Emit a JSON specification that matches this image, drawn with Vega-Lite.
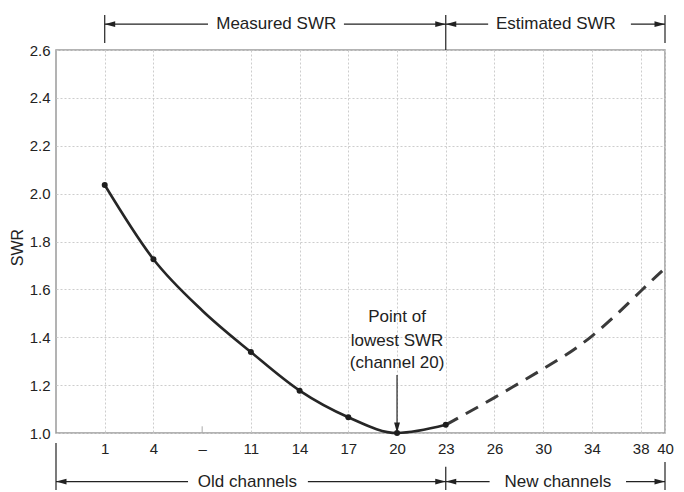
{
  "$schema": "https://vega.github.io/schema/vega-lite/v6.json",
  "width": 609,
  "height": 383,
  "autosize": "none",
  "padding": {"left": 56, "top": 50, "right": 19, "bottom": 59},
  "background": "white",
  "config": {
    "font": "Liberation Sans",
    "view": {"stroke": "#9a9a9a", "strokeWidth": 1.5},
    "text": {"font": "Liberation Sans"}
  },
  "datasets": {
    "curve": [
      {"x": 1, "y": 2.036, "channel": "1", "seg": "measured", "dot": true},
      {"x": 2, "y": 1.726, "channel": "4", "seg": "measured", "dot": true},
      {"x": 3, "y": 1.512, "channel": "–", "seg": "measured", "dot": false},
      {"x": 4, "y": 1.338, "channel": "11", "seg": "measured", "dot": true},
      {"x": 5, "y": 1.177, "channel": "14", "seg": "measured", "dot": true},
      {"x": 6, "y": 1.066, "channel": "17", "seg": "measured", "dot": true},
      {"x": 7, "y": 1.0, "channel": "20", "seg": "measured", "dot": true},
      {"x": 8, "y": 1.034, "channel": "23", "seg": "measured", "dot": true},
      {"x": 8, "y": 1.034, "channel": "23", "seg": "estimated", "dot": false},
      {"x": 9, "y": 1.148, "channel": "26", "seg": "estimated", "dot": false},
      {"x": 10, "y": 1.268, "channel": "30", "seg": "estimated", "dot": false},
      {"x": 11, "y": 1.405, "channel": "34", "seg": "estimated", "dot": false},
      {"x": 12, "y": 1.592, "channel": "38", "seg": "estimated", "dot": false},
      {"x": 12.5, "y": 1.688, "channel": "40", "seg": "estimated", "dot": false}
    ],
    "lines": [
      {"x": 1, "x2": 3.12, "y": 2.708, "y2": 2.708},
      {"x": 5.91, "x2": 8, "y": 2.708, "y2": 2.708},
      {"x": 8, "x2": 8.87, "y": 2.708, "y2": 2.708},
      {"x": 11.8, "x2": 12.5, "y": 2.708, "y2": 2.708},
      {"x": 0, "x2": 2.71, "y": 0.797, "y2": 0.797},
      {"x": 5.17, "x2": 8, "y": 0.797, "y2": 0.797},
      {"x": 8, "x2": 8.9, "y": 0.797, "y2": 0.797},
      {"x": 11.7, "x2": 12.5, "y": 0.797, "y2": 0.797},
      {"x": 1, "x2": 1, "y": 2.746, "y2": 2.629},
      {"x": 8, "x2": 8, "y": 2.746, "y2": 2.6},
      {"x": 12.5, "x2": 12.5, "y": 2.746, "y2": 2.629},
      {"x": 0, "x2": 0, "y": 0.958, "y2": 0.762},
      {"x": 8, "x2": 8, "y": 0.859, "y2": 0.762},
      {"x": 12.5, "x2": 12.5, "y": 0.879, "y2": 0.762},
      {"x": 7, "x2": 7, "y": 1.242, "y2": 1.01}
    ],
    "minor": [
      {"x": 3, "x2": 3, "y": 1.0, "y2": 1.028}
    ],
    "heads": [
      {"x": 1, "y": 2.708, "dir": "left"},
      {"x": 8, "y": 2.708, "dir": "right"},
      {"x": 8, "y": 2.708, "dir": "left"},
      {"x": 12.5, "y": 2.708, "dir": "right"},
      {"x": 0, "y": 0.797, "dir": "left"},
      {"x": 8, "y": 0.797, "dir": "right"},
      {"x": 8, "y": 0.797, "dir": "left"},
      {"x": 12.5, "y": 0.797, "dir": "right"},
      {"x": 7, "y": 1.0, "dir": "down"}
    ],
    "labels": [
      {"x": 4.52, "y": 2.708, "text": "Measured SWR"},
      {"x": 10.26, "y": 2.708, "text": "Estimated SWR"},
      {"x": 3.93, "y": 0.797, "text": "Old channels"},
      {"x": 10.3, "y": 0.797, "text": "New channels"},
      {"x": 7, "y": 1.486, "text": "Point of"},
      {"x": 7, "y": 1.386, "text": "lowest SWR"},
      {"x": 7, "y": 1.291, "text": "(channel 20)"}
    ]
  },
  "layer": [
    {
      "data": {"name": "curve"},
      "transform": [{"filter": "datum.seg === 'measured'"}],
      "mark": {"type": "line", "interpolate": "monotone", "color": "#262626", "strokeWidth": 2.6},
      "encoding": {
        "x": {
          "field": "x", "type": "quantitative",
          "scale": {"domain": [0, 12.5], "nice": false, "zero": false},
          "axis": {
            "title": null,
            "values": [1, 2, 3, 4, 5, 6, 7, 8, 9, 10, 11, 12, 12.5],
            "labelExpr": "datum.value == 12.5 ? '40' : ['', '1', '4', '–', '11', '14', '17', '20', '23', '26', '30', '34', '38'][datum.value]",
            "labelOverlap": false,
            "labelFlush": false,
            "labelBound": false,
            "labelFontSize": 15,
            "labelColor": "#222",
            "labelPadding": 8,
            "labelFont": "Liberation Sans",
            "ticks": false,
            "domain": false,
            "grid": true,
            "gridColor": "#cdcdcd",
            "gridDash": [2, 2],
            "gridWidth": 1,
            "gridOpacity": {"condition": {"test": "datum.value === 3", "value": 0}, "value": 1}
          }
        },
        "y": {
          "field": "y", "type": "quantitative",
          "scale": {"domain": [1.0, 2.6], "nice": false, "zero": false},
          "axis": {
            "title": "SWR",
            "titleFont": "Liberation Sans",
            "titleFontSize": 16,
            "titleFontWeight": "normal",
            "titleColor": "#222",
            "titleAngle": -90,
            "titleX": -39,
            "titleY": 197,
            "titleAlign": "center",
            "titleBaseline": "middle",
            "values": [1.0, 1.2, 1.4, 1.6, 1.8, 2.0, 2.2, 2.4, 2.6],
            "format": ".1f",
            "labelOverlap": false,
            "labelFlush": false,
            "labelFontSize": 15,
            "labelColor": "#222",
            "labelPadding": 6,
            "labelFont": "Liberation Sans",
            "ticks": false,
            "domain": false,
            "grid": true,
            "gridColor": "#cdcdcd",
            "gridDash": [2, 2],
            "gridWidth": 1
          }
        }
      }
    },
    {
      "data": {"name": "curve"},
      "transform": [{"filter": "datum.seg === 'estimated'"}],
      "mark": {"type": "line", "interpolate": "natural", "color": "#3a3a3a", "strokeWidth": 3, "strokeDash": [14, 9]},
      "encoding": {
        "x": {"field": "x", "type": "quantitative"},
        "y": {"field": "y", "type": "quantitative"}
      }
    },
    {
      "data": {"name": "curve"},
      "transform": [{"filter": "datum.dot"}],
      "mark": {"type": "circle", "color": "#1e1e1e", "size": 36, "opacity": 1},
      "encoding": {
        "x": {"field": "x", "type": "quantitative"},
        "y": {"field": "y", "type": "quantitative"}
      }
    },
    {
      "data": {"name": "minor"},
      "mark": {"type": "rule", "color": "#aaaaaa", "strokeWidth": 1},
      "encoding": {
        "x": {"field": "x", "type": "quantitative"},
        "x2": {"field": "x2"},
        "y": {"field": "y", "type": "quantitative"},
        "y2": {"field": "y2"}
      }
    },
    {
      "data": {"name": "lines"},
      "mark": {"type": "rule", "color": "#222", "strokeWidth": 1.2},
      "encoding": {
        "x": {"field": "x", "type": "quantitative"},
        "x2": {"field": "x2"},
        "y": {"field": "y", "type": "quantitative"},
        "y2": {"field": "y2"}
      }
    },
    {
      "data": {"name": "heads"},
      "mark": {"type": "point", "filled": true, "color": "#222", "opacity": 1, "size": 440, "strokeWidth": 0},
      "encoding": {
        "x": {"field": "x", "type": "quantitative"},
        "y": {"field": "y", "type": "quantitative"},
        "shape": {
          "field": "dir", "type": "nominal", "legend": null,
          "scale": {
            "domain": ["left", "right", "down"],
            "range": ["M0,0L1,-0.28L1,0.28Z", "M0,0L-1,-0.28L-1,0.28Z", "M0,0L-0.28,-1L0.28,-1Z"]
          }
        }
      }
    },
    {
      "data": {"name": "labels"},
      "mark": {"type": "text", "fontSize": 17, "color": "#222", "align": "center", "baseline": "middle", "font": "Liberation Sans"},
      "encoding": {
        "x": {"field": "x", "type": "quantitative"},
        "y": {"field": "y", "type": "quantitative"},
        "text": {"field": "text", "type": "nominal"}
      }
    }
  ]
}
